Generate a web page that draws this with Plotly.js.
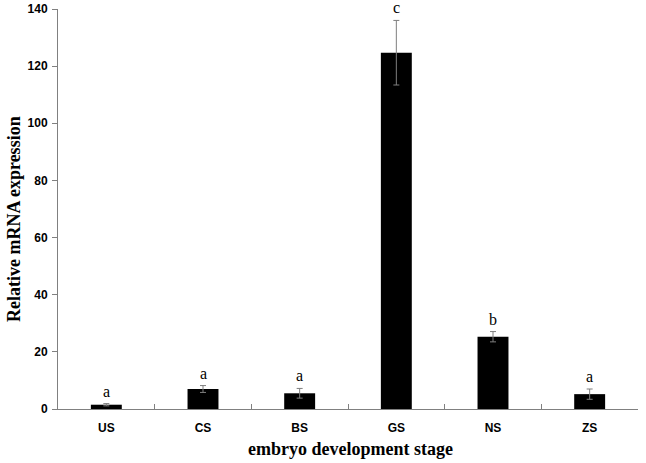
<!DOCTYPE html>
<html><head><meta charset="utf-8">
<script src="https://cdn.plot.ly/plotly-3.0.1.min.js"></script>
<style>html,body{margin:0;padding:0;background:#fff}#c{width:646px;height:463px}</style>
</head><body><div id="c"></div>
<script>
var stages = ["US","CS","BS","GS","NS","ZS"];
var expression = [1.5, 7.0, 5.5, 124.7, 25.3, 5.2];
var errors = [0.4, 1.2, 1.7, 11.3, 1.8, 1.8];
var letters = ["a","a","a","c","b","a"];

var trace = {
  type: "bar", x: stages, y: expression,
  marker: {color: "#000000", line: {width: 0}},
  error_y: {type: "data", array: errors, visible: true, color: "#7f7f7f", thickness: 1, width: 3},
  width: 0.32, hoverinfo: "none"
};
var annotations = stages.map(function(s, i){
  return {x: s, y: expression[i] + errors[i], text: letters[i], showarrow: false,
    yanchor: "bottom", yshift: 2, font: {family: "Liberation Serif", size: 16, color: "#000"}};
});
annotations.push({xref: "paper", yref: "paper", x: 0.505, y: 0, yshift: -40, xanchor: "center", yanchor: "middle",
  showarrow: false, text: "<b>embryo development stage</b>",
  font: {family: "Liberation Serif", size: 18, color: "#000"}});
annotations.push({xref: "paper", yref: "paper", x: 0, xshift: -44, y: 0.475, xanchor: "center", yanchor: "middle",
  textangle: -90, showarrow: false, text: "<b>Relative mRNA expression</b>",
  font: {family: "Liberation Serif", size: 18, color: "#000"}});
var layout = {
  width: 646, height: 463,
  margin: {l: 58, r: 8, t: 9, b: 54},
  paper_bgcolor: "#fff", plot_bgcolor: "#fff",
  showlegend: false,
  xaxis: {type: "category", showline: true, linecolor: "#808080", linewidth: 1,
    ticks: "inside", tickson: "boundaries", ticklen: 5, tickcolor: "#808080",
    showgrid: false, zeroline: false, ticklabelstandoff: 8,
    tickfont: {family: "Liberation Sans", size: 12, color: "#000", weight: "bold"}},
  yaxis: {range: [0, 140], dtick: 20, showline: true, linecolor: "#808080", linewidth: 1,
    ticks: "outside", ticklen: 5, tickcolor: "#808080", showgrid: false, zeroline: false,
    ticklabelstandoff: 2,
    tickfont: {family: "Liberation Sans", size: 12, color: "#000", weight: "bold"}},
  annotations: annotations
};
Plotly.newPlot("c", [trace], layout, {displayModeBar: false, staticPlot: true});
</script></body></html>
